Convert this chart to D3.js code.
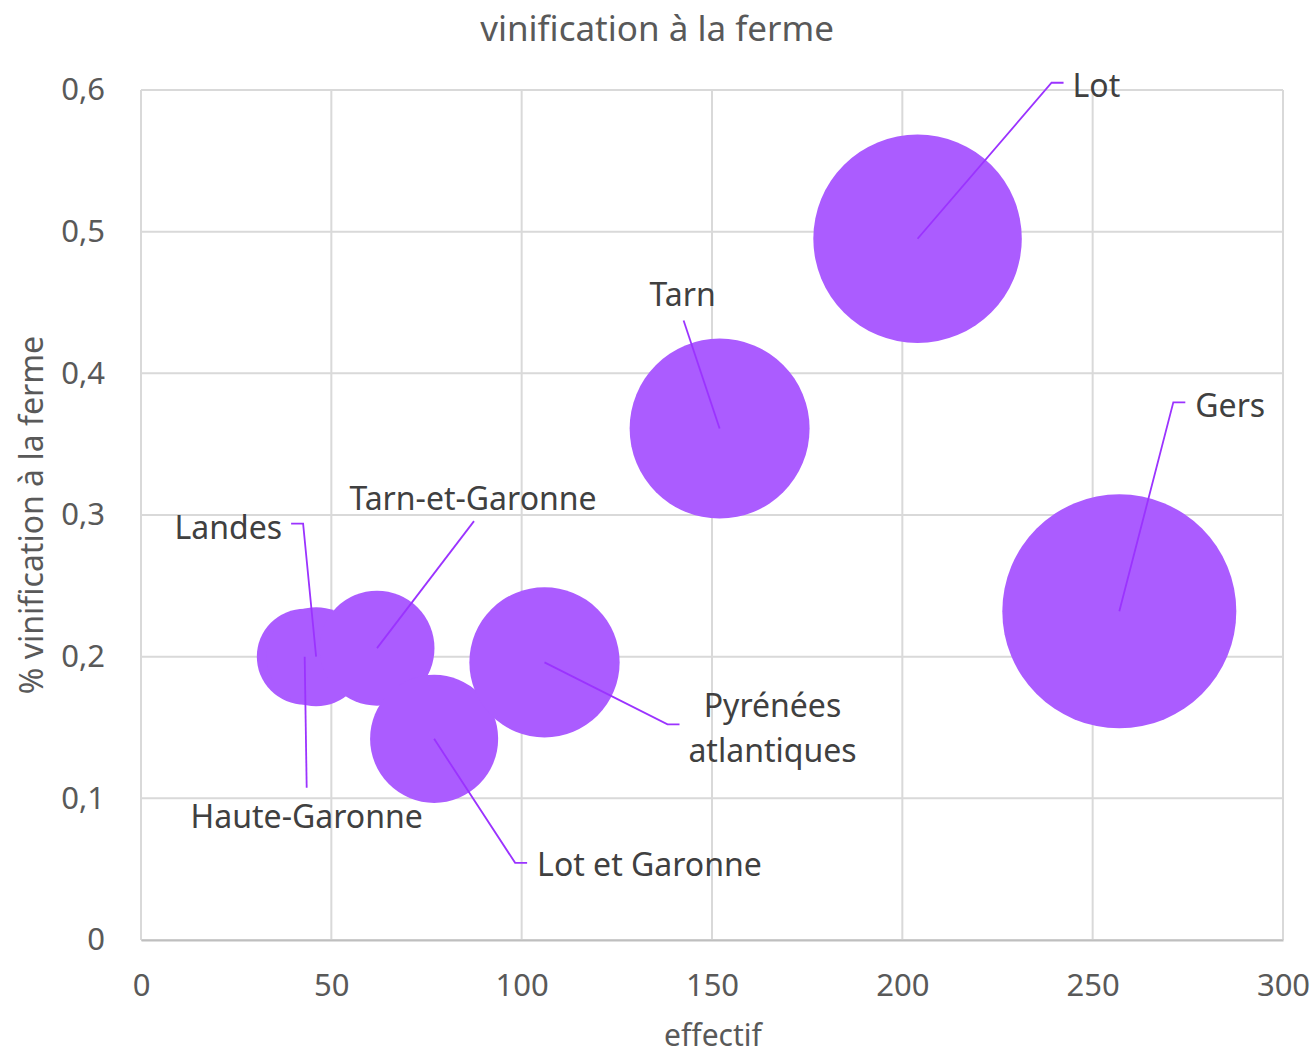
<!DOCTYPE html>
<html>
<head>
<meta charset="utf-8">
<script src="https://cdn.jsdelivr.net/npm/d3@7"></script>
<style>
  body { margin: 0; background: #fff; }
  svg text { font-family: "Noto Sans", "Open Sans", sans-serif; }
</style>
</head>
<body>
<svg id="chart" width="1315" height="1058"></svg>
<script>
// données
var regions = ["Haute-Garonne", "Landes", "Tarn-et-Garonne", "Lot et Garonne", "Pyrénées atlantiques", "Tarn", "Lot", "Gers"];
var effectif = [43, 46, 62, 77, 106, 152, 204, 257];
var pctVinif = [0.20, 0.20, 0.206, 0.142, 0.196, 0.361, 0.495, 0.232];
var bubbleSize = [43, 46, 62, 77, 106, 152, 204, 257];
var xTicks = [0, 50, 100, 150, 200, 250, 300];
var yTicks = [0, 0.1, 0.2, 0.3, 0.4, 0.5, 0.6];

// placement des étiquettes (décalages en px depuis le centre de la bulle)
var labelLayout = [
  {anchor: "middle", dx: 2, dy: 159, leader: [[2, 131]]},
  {anchor: "end", dx: -34, dy: -130, leader: [[-13, -133], [-25, -133]]},
  {anchor: "middle", dx: 96, dy: -151, leader: [[97, -127]]},
  {anchor: "start", dx: 103, dy: 125, leader: [[81, 124], [93, 124]]},
  {anchor: "middle", dx: 228, dy: 42, leader: [[123, 62], [135, 62]], lines: ["Pyrénées", "atlantiques"]},
  {anchor: "middle", dx: -37, dy: -135, leader: [[-36, -108]]},
  {anchor: "start", dx: 155, dy: -154, leader: [[134, -156], [146, -156]]},
  {anchor: "start", dx: 76, dy: -207, leader: [[54, -209], [66, -209]]}
];

var svg = d3.select("#chart");
var margin = {left: 141, right: 1315 - 1283, top: 90, bottom: 1058 - 940};
var W = 1315, H = 1058;

var x = d3.scaleLinear().domain([0, 300]).range([margin.left, W - margin.right]);
var y = d3.scaleLinear().domain([0, 0.6]).range([H - margin.bottom, margin.top]);
var r = d3.scaleSqrt().domain([0, d3.max(bubbleSize)]).range([0, 117]);

var fmt = function(v){ return String(+v.toFixed(1)).replace(".", ","); };

// grille
svg.append("g").selectAll("line").data(xTicks).enter().append("line")
  .attr("x1", d => x(d)).attr("x2", d => x(d))
  .attr("y1", y(0)).attr("y2", y(0.6))
  .attr("stroke", "#d9d9d9").attr("stroke-width", 2);
svg.append("g").selectAll("line").data(yTicks).enter().append("line")
  .attr("x1", x(0)).attr("x2", x(300))
  .attr("y1", d => y(d)).attr("y2", d => y(d))
  .attr("stroke", "#d9d9d9").attr("stroke-width", 2);

// axes
var xAxis = svg.append("g").attr("transform", "translate(0," + y(0) + ")")
  .call(d3.axisBottom(x).tickValues(xTicks).tickSize(0).tickPadding(34));
xAxis.select(".domain").attr("stroke", "#bfbfbf").attr("stroke-width", 2);
xAxis.selectAll("text").attr("fill", "#595959").style("font-size", "31px");

var yAxis = svg.append("g").attr("transform", "translate(" + x(0) + ",0)")
  .call(d3.axisLeft(y).tickValues(yTicks).tickSize(0).tickPadding(36).tickFormat(fmt));
yAxis.select(".domain").remove();
yAxis.selectAll("text").attr("fill", "#595959").style("font-size", "31px");

// bulles
var data = regions.map(function(name, i){
  return {name: name, x: effectif[i], y: pctVinif[i], s: bubbleSize[i], lay: labelLayout[i]};
});

svg.append("g").selectAll("circle").data(data).enter().append("circle")
  .attr("cx", d => x(d.x)).attr("cy", d => y(d.y)).attr("r", d => r(d.s))
  .attr("fill", "#ab5cff");

// lignes de rappel
var line = d3.line();
svg.append("g").selectAll("path").data(data).enter().append("path")
  .attr("d", function(d){
    var cx = x(d.x), cy = y(d.y);
    var pts = [[cx, cy]].concat(d.lay.leader.map(p => [cx + p[0], cy + p[1]]));
    return line(pts);
  })
  .attr("fill", "none").attr("stroke", "#9b33ff").attr("stroke-width", 1.8);

// étiquettes
var labels = svg.append("g").selectAll("text").data(data).enter().append("text")
  .attr("x", d => x(d.x) + d.lay.dx)
  .attr("y", d => y(d.y) + d.lay.dy)
  .attr("text-anchor", d => d.lay.anchor)
  .attr("dominant-baseline", "central")
  .attr("fill", "#404040")
  .style("font-size", "32px");
labels.each(function(d){
  var t = d3.select(this);
  if (d.lay.lines) {
    d.lay.lines.forEach(function(l, k){
      t.append("tspan").attr("x", x(d.x) + d.lay.dx).attr("dy", k ? 45 : 0).text(l);
    });
  } else {
    t.text(d.name);
  }
});

// titres
svg.append("text").attr("x", 657).attr("y", 27).attr("text-anchor", "middle")
  .attr("dominant-baseline", "central").attr("fill", "#595959")
  .style("font-size", "35px").text("vinification à la ferme");
svg.append("text").attr("x", 713).attr("y", 1034).attr("text-anchor", "middle")
  .attr("dominant-baseline", "central").attr("fill", "#595959")
  .style("font-size", "30px").text("effectif");
svg.append("text").attr("transform", "translate(30,515) rotate(-90)").attr("text-anchor", "middle")
  .attr("dominant-baseline", "central").attr("fill", "#595959")
  .style("font-size", "32px").text("% vinification à la ferme");
</script>
</body>
</html>
